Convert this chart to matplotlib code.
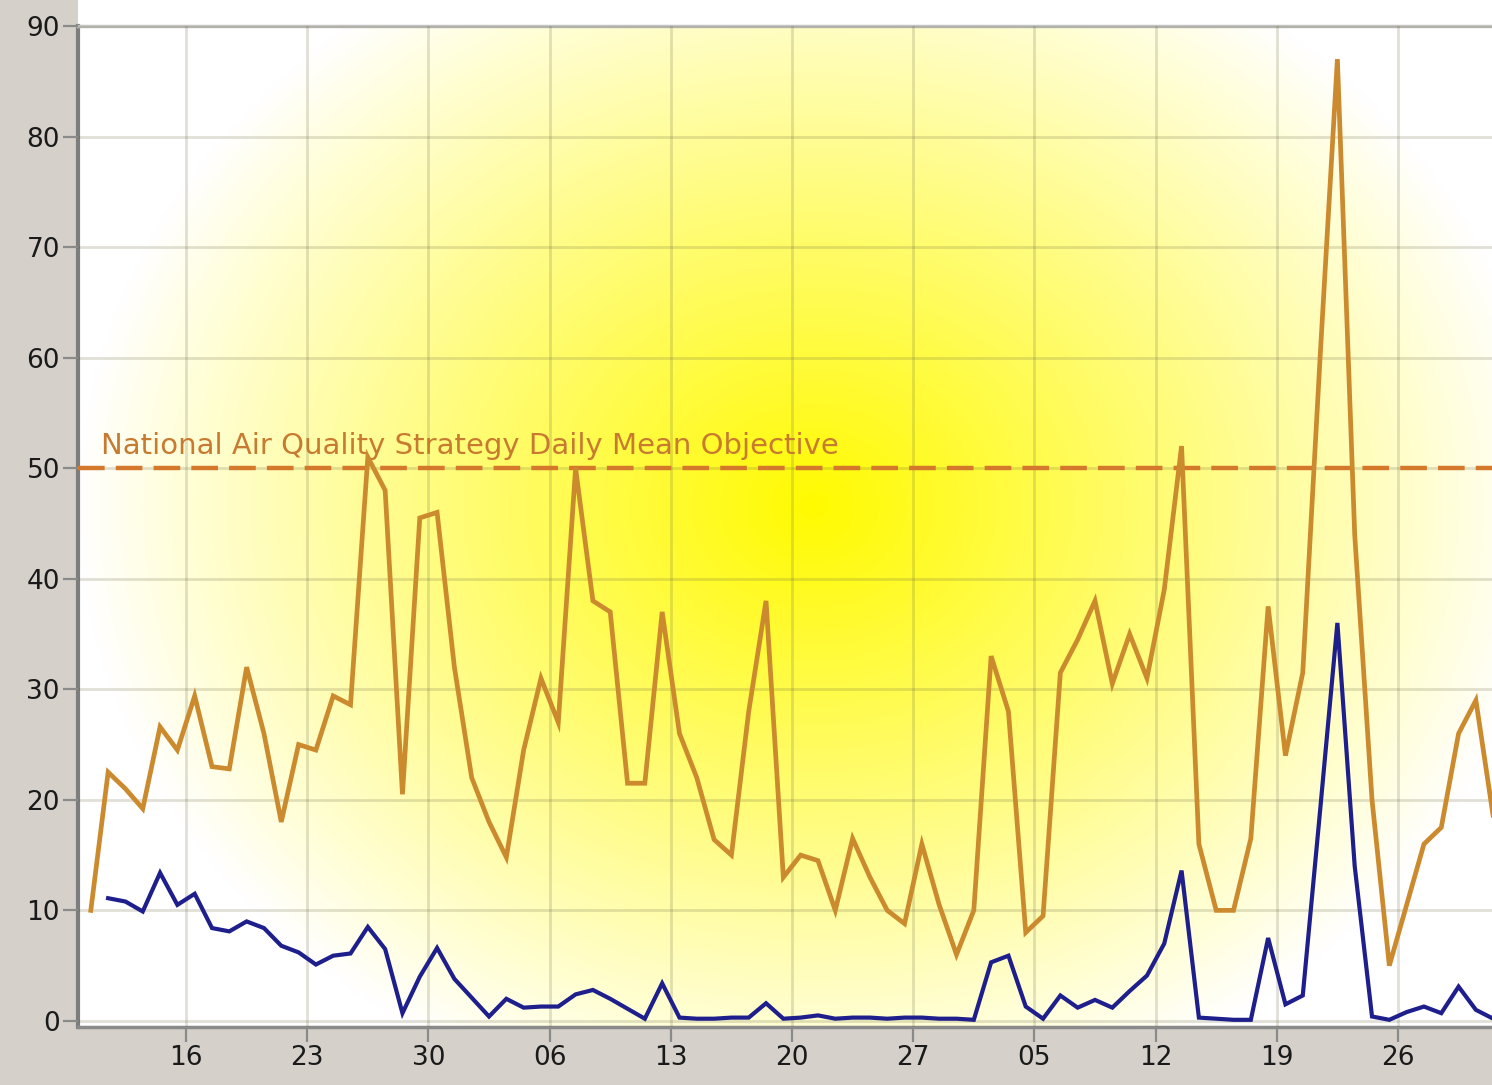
import numpy as np
import matplotlib
matplotlib.use("Agg")
import matplotlib.pyplot as plt
from matplotlib.patches import Rectangle

# ---- data -------------------------------------------------------------
# day of year (Jan 1 = 1); daily means plotted at midday
start_day = 10.5
pm10 = [10, 22.5, 21, 19.2, 26.6, 24.5, 29.4, 23, 22.8, 32,
        26, 18, 25, 24.5, 29.4, 28.6, 51, 48, 20.5, 45.5,
        46, 32, 22, 18, 14.8, 24.5, 31, 27, 50, 38,
        37, 21.5, 21.5, 37, 26, 22, 16.4, 15, 28, 38,
        13, 15, 14.5, 10, 16.5, 13, 10, 8.8, 16, 10.5,
        6, 10, 33, 28, 8, 9.5, 31.5, 34.5, 38, 30.5,
        35, 31, 39, 52, 16, 10, 10, 16.5, 37.5, 24,
        31.5, 60, 87, 44, 20, 5, 10.5, 16, 17.5, 26,
        29, 18.5]
pm25 = [None, 11.1, 10.8, 9.9, 13.4, 10.5, 11.5, 8.4, 8.1, 9,
        8.4, 6.8, 6.2, 5.1, 5.9, 6.1, 8.5, 6.5, 0.7, 4,
        6.6, 3.8, 2.1, 0.4, 2, 1.2, 1.3, 1.3, 2.4, 2.8,
        2, 1.1, 0.2, 3.4, 0.3, 0.2, 0.2, 0.3, 0.3, 1.6,
        0.2, 0.3, 0.5, 0.2, 0.3, 0.3, 0.2, 0.3, 0.3, 0.2,
        0.2, 0.1, 5.3, 5.9, 1.3, 0.2, 2.3, 1.2, 1.9, 1.2,
        2.7, 4.1, 7, 13.6, 0.3, 0.2, 0.1, 0.1, 7.5, 1.5,
        2.3, 19, 36, 14, 0.4, 0.1, 0.8, 1.3, 0.7, 3.1,
        1.0, 0.2]
tick_days = [16, 23, 30, 37, 44, 51, 58, 65, 72, 79, 86]
tick_labels = ["16", "23", "30", "06", "13", "20", "27", "05", "12", "19", "26"]
y_ticks = [0, 10, 20, 30, 40, 50, 60, 70, 80, 90]
objective = 50
objective_label = "National Air Quality Strategy Daily Mean Objective"

# ---- figure -----------------------------------------------------------
W, H = 1492, 1085
fig = plt.figure(figsize=(W / 100, H / 100), dpi=100)
fig.patch.set_facecolor("#d5d1ca")

left = 78 / W
bottom = 58 / H
top = 1 - 26 / H
ax = fig.add_axes([left, bottom, 1 - left, top - bottom])

# white strip above the plot area
fig.patches.append(Rectangle((left, top), 1 - left, 1 - top,
                             transform=fig.transFigure, facecolor="white",
                             edgecolor="none", zorder=-5))

# radial yellow gradient background
nx, ny = 400, 300
gx = np.linspace(0, 1, nx)
gy = np.linspace(0, 1, ny)
X, Y = np.meshgrid(gx, gy)
cx, cy, rx, ry = 0.52, 0.52, 0.52, 0.62
t = np.sqrt(((X - cx) / rx) ** 2 + ((Y - cy) / ry) ** 2)
f = np.clip(1 - t, 0, 1) ** 0.95
img = np.ones((ny, nx, 3))
img[..., 2] = 1 - f
img[..., 1] = 1 - 0.02 * f
ax.imshow(img, extent=[0, 1, 0, 1], transform=ax.transAxes, origin="lower",
          aspect="auto", zorder=0, interpolation="bilinear")

x = [start_day + i for i in range(len(pm10))]
x25 = [start_day + i for i, v in enumerate(pm25) if v is not None]
v25 = [v for v in pm25 if v is not None]

ax.plot(x, pm10, color="#cc8a2e", lw=3.4, zorder=4, solid_joinstyle="miter")
ax.plot(x25, v25, color="#1e1e8c", lw=3.0, zorder=5, solid_joinstyle="miter")

ax.axhline(objective, color="#d4782c", lw=3.2, ls=(0, (6, 2.5)), zorder=3)
ax.text(11.1, objective + 0.7, objective_label, color="#c77a30", fontsize=21,
        ha="left", va="bottom", zorder=3)

ax.set_xlim(9.76, 91.43)
ax.set_ylim(-0.55, 90)
ax.set_xticks(tick_days)
ax.set_xticklabels(tick_labels)
ax.set_yticks(y_ticks)

ax.grid(True, color=(0.4, 0.4, 0.25), alpha=0.2, lw=2, zorder=1)
ax.set_axisbelow(False)
for gl in ax.get_xgridlines() + ax.get_ygridlines():
    gl.set_zorder(1)

ax.tick_params(axis="both", direction="out", length=11, width=1.6,
               color="#8a8a8a", labelsize=19, labelcolor="#1a1a1a", pad=2)

ax.spines["right"].set_visible(False)
ax.spines["left"].set_color("#7d7d7d")
ax.spines["left"].set_linewidth(3)
ax.spines["bottom"].set_color("#8a8a8a")
ax.spines["bottom"].set_linewidth(2.5)
ax.spines["top"].set_color("#c4c4c4")
ax.spines["top"].set_linewidth(2.5)

fig.savefig("out.png", dpi=100, facecolor=fig.get_facecolor())
